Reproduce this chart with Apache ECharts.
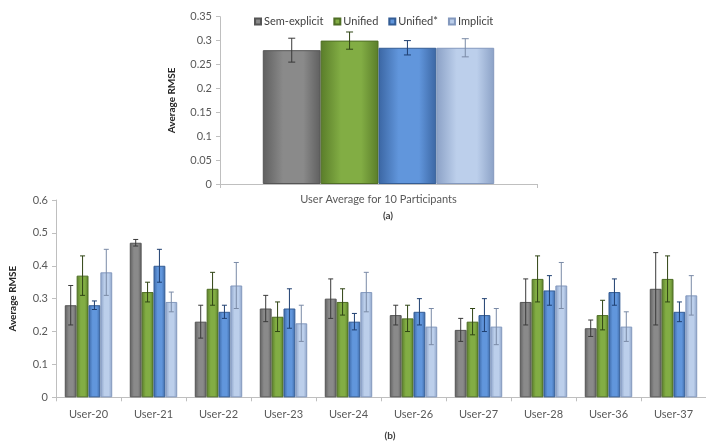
<!DOCTYPE html>
<html>
<head>
<meta charset="utf-8">
<script src="https://cdn.jsdelivr.net/npm/echarts@6/dist/echarts.min.js"></script>
<style>
  html, body { margin: 0; padding: 0; background: #fff; }
  #chart { width: 706px; height: 441px; }
</style>
</head>
<body>
<div id="chart"></div>
<script>
// Methods compared in both panels
const methods = ['Sem-explicit', 'Unified', 'Unified*', 'Implicit'];

// Panel (a): average over all participants
const avgCategories = ['User Average for 10 Participants'];
const avgValues = [0.28, 0.30, 0.285, 0.285];
const avgErrors = [0.025, 0.018, 0.015, 0.019];

// Panel (b): per-user results
const users = ['User-20', 'User-21', 'User-22', 'User-23', 'User-24', 'User-26', 'User-27', 'User-28', 'User-36', 'User-37'];
const semExplicit = [0.28, 0.47, 0.23, 0.27, 0.30, 0.25, 0.205, 0.29, 0.21, 0.33];
const unified = [0.37, 0.32, 0.33, 0.245, 0.29, 0.24, 0.23, 0.36, 0.25, 0.36];
const unifiedStar = [0.28, 0.40, 0.26, 0.27, 0.23, 0.26, 0.25, 0.325, 0.32, 0.26];
const implicit = [0.38, 0.29, 0.34, 0.225, 0.32, 0.215, 0.215, 0.34, 0.215, 0.31];
const semExplicitErr = [0.06, 0.01, 0.05, 0.04, 0.06, 0.03, 0.035, 0.07, 0.025, 0.11];
const unifiedErr = [0.06, 0.03, 0.05, 0.045, 0.04, 0.04, 0.04, 0.07, 0.045, 0.07];
const unifiedStarErr = [0.013, 0.05, 0.02, 0.06, 0.025, 0.04, 0.05, 0.045, 0.04, 0.03];
const implicitErr = [0.07, 0.03, 0.07, 0.055, 0.06, 0.055, 0.055, 0.07, 0.045, 0.06];

// Axis ticks
const avgTicks = { min: 0, max: 0.35, interval: 0.05 };
const userTicks = { min: 0, max: 0.6, interval: 0.1 };

const userValues = [semExplicit, unified, unifiedStar, implicit];
const userErrors = [semExplicitErr, unifiedErr, unifiedStarErr, implicitErr];

const FONT = 'Lato, "Open Sans", sans-serif';
const CAT_GAP = 0.27;

// Excel-like shaded fills: darker edges, lighter middle
const palette = [
  { edge: '#5f5f5f', mid: '#8a8a8a', border: '#555555', err: '#3a3a3a' },
  { edge: '#5a7d2a', mid: '#82ad44', border: '#4f6e25', err: '#2f4414' },
  { edge: '#3b66a3', mid: '#6196dc', border: '#345d95', err: '#1f3f70' },
  { edge: '#8ba1c6', mid: '#bccfeb', border: '#8499be', err: '#7a8aa6' }
];

function fill(i) {
  const p = palette[i];
  return new echarts.graphic.LinearGradient(0, 0, 1, 0, [
    { offset: 0, color: p.edge },
    { offset: 0.35, color: p.mid },
    { offset: 0.7, color: p.mid },
    { offset: 1, color: p.edge }
  ]);
}

function errorItems(values, errors, seriesIndex) {
  return values.map((v, c) => [c, seriesIndex, v - errors[c], v + errors[c]]);
}

function errorRenderer(capHalf) {
  return function (params, api) {
    const cat = api.value(0);
    const s = api.value(1);
    const catW = api.size([1, 0])[0];
    const groupW = catW * (1 - CAT_GAP);
    const barW = groupW / methods.length;
    const offset = -groupW / 2 + barW * (s + 0.5);
    const hi = api.coord([cat, api.value(3)]);
    const lo = api.coord([cat, api.value(2)]);
    const x = hi[0] + offset;
    const style = { stroke: palette[s].err, lineWidth: 1 };
    return {
      type: 'group',
      children: [
        { type: 'line', shape: { x1: x, y1: hi[1], x2: x, y2: lo[1] }, style },
        { type: 'line', shape: { x1: x - capHalf, y1: hi[1], x2: x + capHalf, y2: hi[1] }, style },
        { type: 'line', shape: { x1: x - capHalf, y1: lo[1], x2: x + capHalf, y2: lo[1] }, style }
      ]
    };
  };
}

const axisLine = { show: true, lineStyle: { color: '#bfbfbf', width: 1 } };
const axisLabelStyle = { color: '#595959', fontSize: 11, fontFamily: FONT };
const yName = {
  name: 'Average RMSE',
  nameLocation: 'middle',
  nameTextStyle: { color: '#262626', fontSize: 10, fontWeight: 'bold', fontFamily: FONT }
};

const series = [];
methods.forEach((m, i) => {
  series.push({
    name: m, type: 'bar', xAxisIndex: 0, yAxisIndex: 0,
    data: [avgValues[i]],
    barGap: '0%', barCategoryGap: (CAT_GAP * 100) + '%',
    itemStyle: { color: fill(i), borderColor: palette[i].border, borderWidth: 1 },
    emphasis: { disabled: true }
  });
});
methods.forEach((m, i) => {
  series.push({
    name: m, type: 'bar', xAxisIndex: 1, yAxisIndex: 1,
    data: userValues[i],
    barGap: '0%', barCategoryGap: (CAT_GAP * 100) + '%',
    itemStyle: { color: fill(i), borderColor: palette[i].border, borderWidth: 1 },
    emphasis: { disabled: true }
  });
});
series.push({
  type: 'custom', xAxisIndex: 0, yAxisIndex: 0, z: 5,
  renderItem: errorRenderer(3.5),
  encode: { x: 0, y: [2, 3] },
  data: methods.map((m, i) => [0, i, avgValues[i] - avgErrors[i], avgValues[i] + avgErrors[i]])
});
series.push({
  type: 'custom', xAxisIndex: 1, yAxisIndex: 1, z: 5,
  renderItem: errorRenderer(2.5),
  encode: { x: 0, y: [2, 3] },
  data: [].concat(...methods.map((m, i) => errorItems(userValues[i], userErrors[i], i)))
});

const chart = echarts.init(document.getElementById('chart'), null, { renderer: 'canvas' });
chart.setOption({
  backgroundColor: '#ffffff',
  animation: false,
  textStyle: { fontFamily: FONT },
  legend: {
    data: methods,
    top: 11, left: 249,
    icon: 'rect', itemWidth: 6, itemHeight: 6, itemGap: 10,
    textStyle: { color: '#404040', fontSize: 11, fontFamily: FONT, padding: [0, 0, 0, -2] }
  },
  title: [
    { text: '(a)', left: 383, top: 206, textAlign: 'center',
      textStyle: { fontSize: 10, fontWeight: 'bold', color: '#404040', fontFamily: FONT } },
    { text: '(b)', left: 385, top: 426, textAlign: 'center',
      textStyle: { fontSize: 10, fontWeight: 'bold', color: '#404040', fontFamily: FONT } }
  ],
  grid: [
    { left: 220, right: 169, top: 16.7, bottom: 257 },
    { left: 55, right: -10, top: 200, bottom: 43.7 }
  ],
  xAxis: [
    { type: 'category', gridIndex: 0, data: avgCategories,
      axisLine, axisTick: { show: true, length: 4, lineStyle: { color: '#bfbfbf' } },
      axisLabel: Object.assign({ margin: 10 }, axisLabelStyle) },
    { type: 'category', gridIndex: 1, data: users,
      axisLine, axisTick: { show: true, length: 4, lineStyle: { color: '#bfbfbf' } },
      axisLabel: Object.assign({ margin: 12 }, axisLabelStyle) }
  ],
  yAxis: [
    Object.assign({ type: 'value', gridIndex: 0, min: avgTicks.min, max: avgTicks.max, interval: avgTicks.interval,
      nameGap: 43, axisLine, axisTick: { show: true, length: 4, lineStyle: { color: '#bfbfbf' } },
      splitLine: { show: false }, axisLabel: Object.assign({ margin: 8 }, axisLabelStyle) }, yName),
    Object.assign({ type: 'value', gridIndex: 1, min: userTicks.min, max: userTicks.max, interval: userTicks.interval,
      nameGap: 38, axisLine, axisTick: { show: true, length: 4, lineStyle: { color: '#bfbfbf' } },
      splitLine: { show: false }, axisLabel: Object.assign({ margin: 8 }, axisLabelStyle) }, yName)
  ],
  series
});
</script>
</body>
</html>
